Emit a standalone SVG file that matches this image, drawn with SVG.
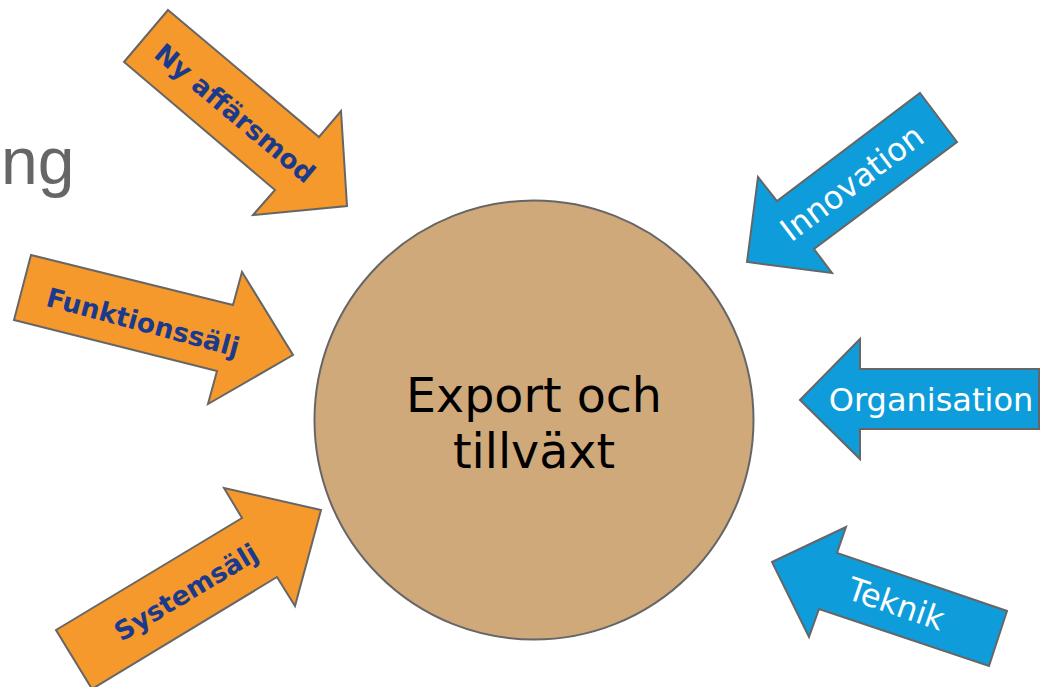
<svg xmlns="http://www.w3.org/2000/svg" width="1041" height="687" viewBox="0 0 1041 687">
<style>
.arrow-o{fill:#F6992C;stroke:#666;stroke-width:2;stroke-linejoin:miter}
.arrow-b{fill:#0E9DDA;stroke:#666;stroke-width:2;stroke-linejoin:miter}
.lbl-o{font-family:"DejaVu Sans",Verdana,sans-serif;font-weight:bold;font-size:26.5px;fill:#1B3A8C;text-anchor:middle;dominant-baseline:central}
.lbl-b{font-family:"DejaVu Sans",Verdana,sans-serif;font-size:32px;fill:#fff;text-anchor:middle;dominant-baseline:central}
.center{font-family:"DejaVu Sans",Verdana,sans-serif;font-size:47.5px;fill:#000;text-anchor:middle}
</style>
<rect width="1041" height="687" fill="#fff"/>
<text x="1" y="184" font-family="Liberation Sans, Arial, sans-serif" font-size="66" fill="#666">ng</text>
<g id="connectors"/>
<g id="node-center">
<circle cx="534" cy="420" r="219.5" fill="#CFA97A" stroke="#666" stroke-width="2"/>
<text class="center" x="534" y="412">Export och</text>
<text class="center" x="534" y="468">tillväxt</text>
</g>
<g id="node-ny-affarsmod">
<polygon class="arrow-o" points="168,10 319,137 341,111 347,206 253,215 275,190 124,62"/>
<text class="lbl-o" transform="translate(235,113) rotate(40)">Ny affärsmod</text>
</g>
<g id="node-funktionssalj">
<polygon class="arrow-o" points="31,255 233,305 242,272 293,355 208,404 217,371 14,320"/>
<text class="lbl-o" transform="translate(143,322) rotate(15)">Funktionssälj</text>
</g>
<g id="node-systemsalj">
<polygon class="arrow-o" points="56,630 242,518 224,488 321,510 295,606 277,577 92,689"/>
<text class="lbl-o" transform="translate(186,592) rotate(-31)">Systemsälj</text>
</g>
<g id="node-innovation">
<polygon class="arrow-b" points="920,93 957,142 814,249 832,273 747,262 758,177 777,201"/>
<text class="lbl-b" transform="translate(852,183) rotate(-37)">Innovation</text>
</g>
<g id="node-organisation">
<polygon class="arrow-b" points="800,400 860,339 860,369 1039,369 1039,429 860,429 860,459"/>
<text class="lbl-b" transform="translate(931,400)">Organisation</text>
</g>
<g id="node-teknik">
<polygon class="arrow-b" points="772,562 846,527 837,553 1007,611 989,666 819,609 809,637"/>
<text class="lbl-b" transform="translate(896,604) rotate(19)">Teknik</text>
</g>
</svg>
